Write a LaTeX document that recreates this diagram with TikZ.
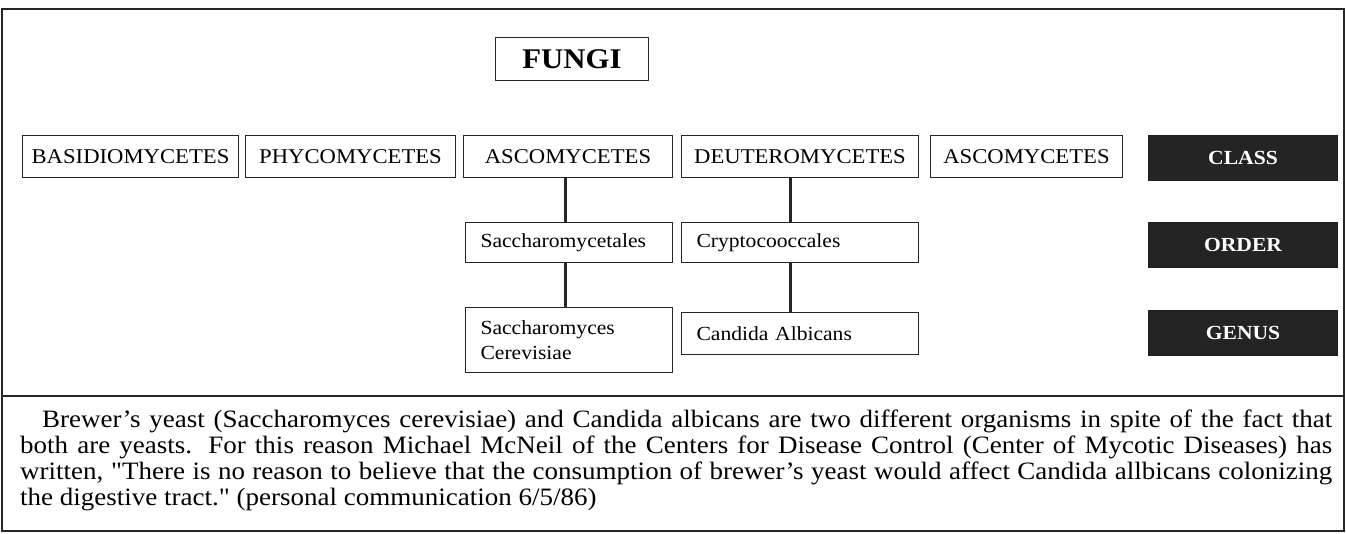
\documentclass[tikz,border=0pt]{standalone}
\usepackage{fontspec}
\setmainfont[FakeStretch=1.08, Ligatures=TeXOff]{Liberation Serif}
\begin{document}
\begin{tikzpicture}[x=1pt,y=-1pt,
  box/.style={draw=black!85, line width=1pt, inner sep=0pt, anchor=north west},
  cls/.style={box, minimum height=42pt, font=\fontsize{21}{24}\selectfont},
  lft/.style={box, align=left, inner xsep=15pt, font=\fontsize{20}{25}\selectfont},
  lvl/.style={box, draw=black!88, fill=black!86, text=white, minimum width=189pt, minimum height=45pt, font=\fontsize{20}{22}\selectfont\bfseries},
  link/.style={line width=3pt, black!85},
  capline/.style={anchor=base west, inner sep=0pt, font=\fontsize{25}{26}\selectfont}]
\useasboundingbox (0,0) rectangle (1346,534);
\draw[line width=1.8pt, black!85] (2,9) rectangle (1344,531);
\draw[line width=1.8pt, black!85] (2,396) -- (1344,396);

\node[box, minimum width=153pt, minimum height=43pt, font=\fontsize{28.5}{30}\selectfont\bfseries] (fungi) at (495,37) {FUNGI};

\node[cls, minimum width=216pt] (basid) at (22,135) {BASIDIOMYCETES};
\node[cls, minimum width=210pt] (phyco) at (245,135) {PHYCOMYCETES};
\node[cls, minimum width=209pt] (asco) at (463,135) {ASCOMYCETES};
\node[cls, minimum width=237pt] (deut) at (681,135) {DEUTEROMYCETES};
\node[cls, minimum width=192pt] (asco2) at (930,135) {ASCOMYCETES};
\node[lvl] (class) at (1148,135) {CLASS};

\node[lft, minimum height=40pt, text width=177pt] (sacord) at (465,222) {Saccharomycetales};
\node[lft, minimum height=40pt, text width=207pt] (crypto) at (681,222) {Cryptocooccales};
\node[lvl] (order) at (1148,222) {ORDER};

\node[lft, minimum height=65pt, text width=177pt] (saccer) at (465,307) {Saccharomyces\\Cerevisiae};
\node[lft, minimum height=42pt, text width=207pt] (candida) at (681,312) {Candida Albicans};
\node[lvl] (genus) at (1148,310) {GENUS};

\draw[link] ([xshift=-3pt]asco.south) -- ([xshift=-4pt]sacord.north);
\draw[link] ([xshift=-4pt]sacord.south) -- ([xshift=-4pt]saccer.north);
\draw[link] ([xshift=-10pt]deut.south) -- ([xshift=-10pt]crypto.north);
\draw[link] ([xshift=-10pt]crypto.south) -- ([xshift=-10pt]candida.north);

\node[capline] (cap1) at (42,427) {\makebox[1290pt][s]{Brewer’s yeast (Saccharomyces cerevisiae) and Candida albicans are two different organisms in spite of the fact that}};
\node[capline] (cap2) at (20,453) {\makebox[1312pt][s]{both are yeasts. For this reason Michael McNeil of the Centers for Disease Control (Center of Mycotic Diseases) has}};
\node[capline] (cap3) at (20,479) {\makebox[1312pt][s]{written, "There is no reason to believe that the consumption of brewer’s yeast would affect Candida allbicans colonizing}};
\node[capline] (cap4) at (20,505) {the digestive tract." (personal communication 6/5/86)};
\end{tikzpicture}
\end{document}
